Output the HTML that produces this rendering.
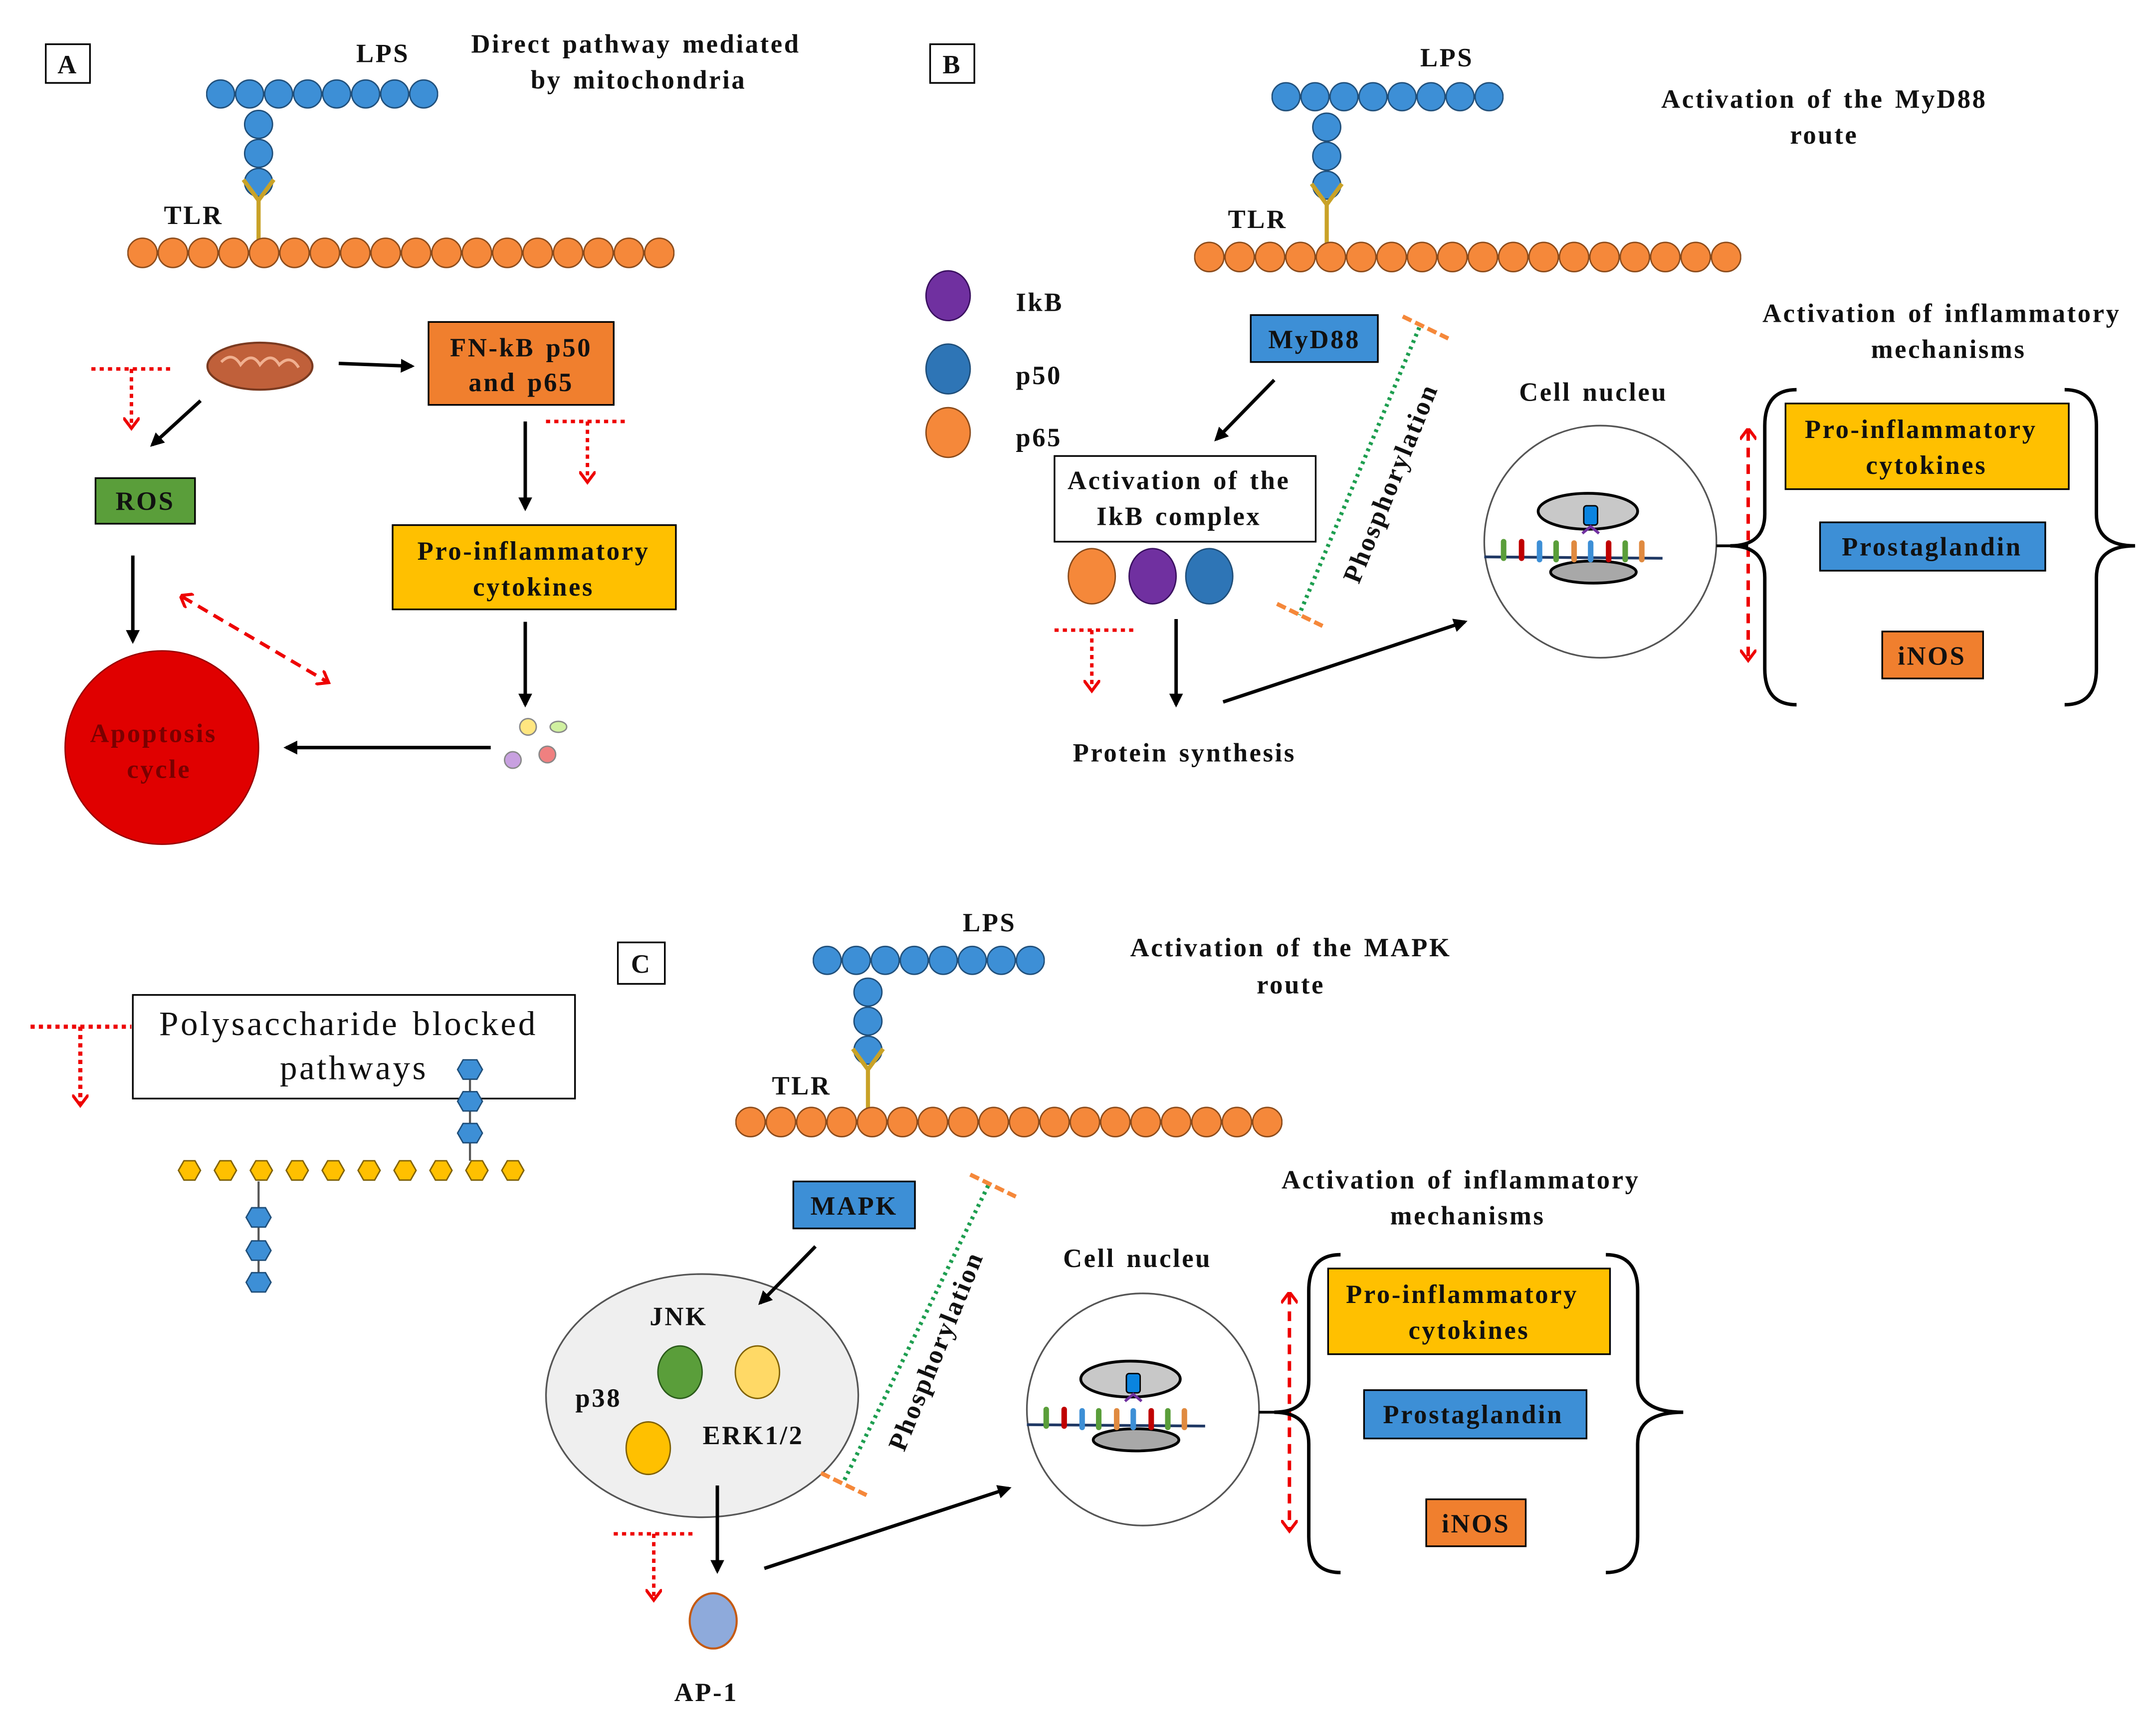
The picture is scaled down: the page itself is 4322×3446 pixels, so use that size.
<!DOCTYPE html>
<html><head><meta charset="utf-8"><style>html,body{margin:0;padding:0;background:#fff}svg{display:block}
text{font-family:"Liberation Serif",serif;font-weight:bold;font-size:19px;letter-spacing:1.3px;word-spacing:2px;fill:#111}</style></head>
<body>
<svg width="4322" height="3446" viewBox="0 0 1560 1244" xmlns="http://www.w3.org/2000/svg">
<defs>
<pattern id="mem" patternUnits="userSpaceOnUse" width="22" height="24"><circle cx="11" cy="12" r="10.6" fill="#f5883a" stroke="#8a4a1a" stroke-width="1"/></pattern>
<pattern id="lps" patternUnits="userSpaceOnUse" width="21" height="24"><circle cx="10.5" cy="12" r="10.1" fill="#3d8fd6" stroke="#1f4e79" stroke-width="1"/></pattern>
<pattern id="hex" patternUnits="userSpaceOnUse" width="26" height="20"><polygon points="5,10 9,3 17,3 21,10 17,17 9,17" fill="#ffc000" stroke="#7f6000" stroke-width="1"/></pattern>
<marker id="ar" markerWidth="10" markerHeight="10" refX="8" refY="5" orient="auto" markerUnits="userSpaceOnUse"><path d="M0,0 L10,5 L0,10 z" fill="#000"/></marker>
<marker id="rr" markerWidth="12" markerHeight="12" refX="6" refY="6" orient="auto" markerUnits="userSpaceOnUse"><path d="M0,0 L8,6 L0,12" fill="none" stroke="#e00" stroke-width="2.2"/></marker>
<marker id="rs" markerWidth="12" markerHeight="12" refX="2" refY="6" orient="auto" markerUnits="userSpaceOnUse"><path d="M8,0 L0,6 L8,12" fill="none" stroke="#e00" stroke-width="2.2"/></marker>
<g id="nuc">
<circle cx="0" cy="0" r="84" fill="#fff" stroke="#555" stroke-width="1.2"/>
<ellipse cx="-9" cy="-22" rx="36" ry="13" fill="#c8c8c8" stroke="#000" stroke-width="2"/>
<ellipse cx="-5" cy="22" rx="31" ry="8" fill="#a8a8a8" stroke="#000" stroke-width="2"/>
<line x1="-84" y1="11" x2="45" y2="12" stroke="#1f3864" stroke-width="2"/>
<rect x="-72" y="-2" width="4" height="16" rx="2" fill="#5a9e3a"/><rect x="-59" y="-2" width="4" height="16" rx="2" fill="#c00000"/><rect x="-46" y="-1" width="4" height="16" rx="2" fill="#3d8fd6"/><rect x="-34" y="-1" width="4" height="16" rx="2" fill="#5a9e3a"/><rect x="-21" y="-1" width="4" height="16" rx="2" fill="#e08a40"/><rect x="-9" y="-1" width="4" height="16" rx="2" fill="#3d8fd6"/><rect x="4" y="-1" width="4" height="16" rx="2" fill="#c00000"/><rect x="16" y="-1" width="4" height="16" rx="2" fill="#5a9e3a"/><rect x="28" y="-1" width="4" height="16" rx="2" fill="#e08a40"/>
<rect x="-12" y="-26" width="10" height="14" rx="2" fill="#0a84e0" stroke="#000" stroke-width="1"/>
<path d="M-13,-6 L-7,-11 L-1,-6" fill="none" stroke="#7030a0" stroke-width="2"/>
</g>
</defs>

<!-- ===== Panel A ===== -->
<rect x="33" y="32" width="32" height="28" fill="#fff" stroke="#000" stroke-width="1.2"/><text x="49" y="53" text-anchor="middle">A</text>
<text x="277" y="45" text-anchor="middle">LPS</text>
<text x="460" y="38" text-anchor="middle">Direct pathway mediated</text>
<text x="462" y="64" text-anchor="middle">by mitochondria</text>
<g transform="translate(149,56)"><rect width="168" height="24" fill="url(#lps)"/></g>
<circle cx="187" cy="90" r="10.1" fill="#3d8fd6" stroke="#1f4e79"/><circle cx="187" cy="111" r="10.1" fill="#3d8fd6" stroke="#1f4e79"/><circle cx="187" cy="132" r="10.1" fill="#3d8fd6" stroke="#1f4e79"/>
<path d="M187,182 L187,145 M176,130 L187,145 L198,130" fill="none" stroke="#c9a227" stroke-width="3"/>
<text x="140" y="162" text-anchor="middle">TLR</text>
<g transform="translate(92,171)"><rect width="396" height="24" fill="url(#mem)"/></g>
<ellipse cx="188" cy="265" rx="38" ry="17" fill="#c0603a" stroke="#7a3a20" stroke-width="1.5"/>
<path d="M160,262 q8,-8 14,2 q8,-10 14,0 q8,-10 14,0 q8,-8 14,2" fill="none" stroke="#f0b090" stroke-width="2"/>
<line x1="245" y1="263" x2="298" y2="265" stroke="#000" stroke-width="2.5" marker-end="url(#ar)"/>
<rect x="310" y="233" width="134" height="60" fill="#f07f2e" stroke="#000" stroke-width="1.2"/>
<text x="377" y="258" text-anchor="middle">FN-kB p50</text><text x="377" y="283" text-anchor="middle">and p65</text>
<path d="M66,267 L125,267 M95,267 L95,308" fill="none" stroke="#e00" stroke-width="2.5" stroke-dasharray="3,3" marker-end="url(#rr)"/>
<path d="M395,305 L455,305 M425,305 L425,347" fill="none" stroke="#e00" stroke-width="2.5" stroke-dasharray="3,3" marker-end="url(#rr)"/>
<line x1="145" y1="290" x2="110" y2="322" stroke="#000" stroke-width="2.5" marker-end="url(#ar)"/>
<rect x="69" y="346" width="72" height="33" fill="#5a9e3a" stroke="#000" stroke-width="1.2"/><text x="105" y="369" text-anchor="middle">ROS</text>
<line x1="380" y1="305" x2="380" y2="368" stroke="#000" stroke-width="2.5" marker-end="url(#ar)"/>
<rect x="284" y="380" width="205" height="61" fill="#ffc000" stroke="#000" stroke-width="1.2"/>
<text x="386" y="405" text-anchor="middle">Pro-inflammatory</text><text x="386" y="431" text-anchor="middle">cytokines</text>
<line x1="96" y1="402" x2="96" y2="464" stroke="#000" stroke-width="2.5" marker-end="url(#ar)"/>
<line x1="132" y1="432" x2="236" y2="493" stroke="#e00" stroke-width="2.5" stroke-dasharray="8,5" marker-start="url(#rs)" marker-end="url(#rr)"/>
<circle cx="117" cy="541" r="70" fill="#e00000" stroke="#900" stroke-width="1"/>
<text x="111" y="537" text-anchor="middle" style="fill:#7a0000">Apoptosis</text><text x="115" y="563" text-anchor="middle" style="fill:#7a0000">cycle</text>
<line x1="355" y1="541" x2="207" y2="541" stroke="#000" stroke-width="2.5" marker-end="url(#ar)"/>
<line x1="380" y1="450" x2="380" y2="510" stroke="#000" stroke-width="2.5" marker-end="url(#ar)"/>
<circle cx="382" cy="526" r="6" fill="#ffe680" stroke="#888"/><ellipse cx="404" cy="526" rx="6" ry="4" fill="#d0f0a0" stroke="#888"/><circle cx="371" cy="550" r="6" fill="#c8a0e0" stroke="#888"/><circle cx="396" cy="546" r="6" fill="#f08080" stroke="#888"/>

<!-- ===== Panel B ===== -->
<rect x="673" y="32" width="32" height="28" fill="#fff" stroke="#000" stroke-width="1.2"/><text x="689" y="53" text-anchor="middle">B</text>
<text x="1047" y="48" text-anchor="middle">LPS</text>
<text x="1320" y="78" text-anchor="middle">Activation of the MyD88</text><text x="1320" y="104" text-anchor="middle">route</text>
<g transform="translate(920,58)"><rect width="168" height="24" fill="url(#lps)"/></g>
<circle cx="960" cy="92" r="10.1" fill="#3d8fd6" stroke="#1f4e79"/><circle cx="960" cy="113" r="10.1" fill="#3d8fd6" stroke="#1f4e79"/><circle cx="960" cy="134" r="10.1" fill="#3d8fd6" stroke="#1f4e79"/>
<path d="M960,185 L960,148 M949,133 L960,148 L971,133" fill="none" stroke="#c9a227" stroke-width="3"/>
<text x="910" y="165" text-anchor="middle">TLR</text>
<g transform="translate(864,174)"><rect width="396" height="24" fill="url(#mem)"/></g>
<ellipse cx="686" cy="214" rx="16" ry="18" fill="#7030a0" stroke="#3a1060"/><text x="735" y="225">IkB</text>
<ellipse cx="686" cy="267" rx="16" ry="18" fill="#2e75b6" stroke="#1f4e79"/><text x="735" y="278">p50</text>
<ellipse cx="686" cy="313" rx="16" ry="18" fill="#f5883a" stroke="#8a4a1a"/><text x="735" y="323">p65</text>
<rect x="905" y="228" width="92" height="34" fill="#3d8fd6" stroke="#000" stroke-width="1.2"/><text x="951" y="252" text-anchor="middle">MyD88</text>
<line x1="922" y1="275" x2="880" y2="318" stroke="#000" stroke-width="2.5" marker-end="url(#ar)"/>
<rect x="763" y="330" width="189" height="62" fill="#fff" stroke="#000" stroke-width="1.2"/>
<text x="853" y="354" text-anchor="middle">Activation of the</text><text x="853" y="380" text-anchor="middle">IkB complex</text>
<ellipse cx="790" cy="417" rx="17" ry="20" fill="#f5883a" stroke="#8a4a1a"/><ellipse cx="834" cy="417" rx="17" ry="20" fill="#7030a0" stroke="#3a1060"/><ellipse cx="875" cy="417" rx="17" ry="20" fill="#2e75b6" stroke="#1f4e79"/>
<path d="M763,456 L820,456 M790,456 L790,498" fill="none" stroke="#e00" stroke-width="2.5" stroke-dasharray="3,3" marker-end="url(#rr)"/>
<line x1="851" y1="448" x2="851" y2="510" stroke="#000" stroke-width="2.5" marker-end="url(#ar)"/>
<text x="857" y="551" text-anchor="middle">Protein synthesis</text>
<line x1="885" y1="508" x2="1060" y2="450" stroke="#000" stroke-width="2.5" marker-end="url(#ar)"/>
<line x1="1027" y1="237" x2="940" y2="445" stroke="#1e9e50" stroke-width="3" stroke-dasharray="2,3"/>
<line x1="1015" y1="229" x2="1048" y2="245" stroke="#f5883a" stroke-width="3" stroke-dasharray="7,3"/>
<line x1="924" y1="437" x2="957" y2="453" stroke="#f5883a" stroke-width="3" stroke-dasharray="7,3"/>
<text x="1012" y="352" text-anchor="middle" transform="rotate(-68 1012 352)">Phosphorylation</text>
<text x="1153" y="290" text-anchor="middle">Cell nucleu</text>
<use href="#nuc" transform="translate(1158,392)"/>
<line x1="1242" y1="395" x2="1265" y2="395" stroke="#000" stroke-width="2"/>
<line x1="1265" y1="312" x2="1265" y2="476" stroke="#e00" stroke-width="2.5" stroke-dasharray="7,5" marker-start="url(#rs)" marker-end="url(#rr)"/>
<text x="1405" y="233" text-anchor="middle">Activation of inflammatory</text><text x="1410" y="259" text-anchor="middle">mechanisms</text>
<path d="M1300,282 Q1277,282 1277,308 L1277,372 Q1277,395 1252,395 Q1277,395 1277,418 L1277,484 Q1277,510 1300,510" fill="none" stroke="#000" stroke-width="2.5"/>
<path d="M1494,282 Q1517,282 1517,308 L1517,372 Q1517,395 1545,395 Q1517,395 1517,418 L1517,484 Q1517,510 1494,510" fill="none" stroke="#000" stroke-width="2.5"/>
<rect x="1292" y="292" width="205" height="62" fill="#ffc000" stroke="#000" stroke-width="1.2"/>
<text x="1390" y="317" text-anchor="middle">Pro-inflammatory</text><text x="1394" y="343" text-anchor="middle">cytokines</text>
<rect x="1317" y="378" width="163" height="35" fill="#3d8fd6" stroke="#000" stroke-width="1.2"/><text x="1398" y="402" text-anchor="middle">Prostaglandin</text>
<rect x="1362" y="457" width="73" height="34" fill="#f07f2e" stroke="#000" stroke-width="1.2"/><text x="1398" y="481" text-anchor="middle">iNOS</text>

<!-- ===== Panel C ===== -->
<rect x="447" y="682" width="34" height="30" fill="#fff" stroke="#000" stroke-width="1.2"/><text x="464" y="704" text-anchor="middle">C</text>
<text x="716" y="674" text-anchor="middle">LPS</text>
<text x="934" y="692" text-anchor="middle">Activation of the MAPK</text><text x="934" y="719" text-anchor="middle">route</text>
<g transform="translate(588,683)"><rect width="168" height="24" fill="url(#lps)"/></g>
<circle cx="628" cy="718" r="10.1" fill="#3d8fd6" stroke="#1f4e79"/><circle cx="628" cy="739" r="10.1" fill="#3d8fd6" stroke="#1f4e79"/><circle cx="628" cy="760" r="10.1" fill="#3d8fd6" stroke="#1f4e79"/>
<path d="M628,810 L628,774 M617,759 L628,774 L639,759" fill="none" stroke="#c9a227" stroke-width="3"/>
<text x="580" y="792" text-anchor="middle">TLR</text>
<g transform="translate(532,800)"><rect width="396" height="24" fill="url(#mem)"/></g>
<path d="M22,743 L95,743 M58,743 L58,798" fill="none" stroke="#e00" stroke-width="3" stroke-dasharray="3,3" marker-end="url(#rr)"/>
<rect x="96" y="720" width="320" height="75" fill="#fff" stroke="#000" stroke-width="1.2"/>
<text x="252" y="749" text-anchor="middle" style="font-weight:normal;font-size:25px;letter-spacing:1.6px">Polysaccharide blocked</text>
<text x="256" y="781" text-anchor="middle" style="font-weight:normal;font-size:25px;letter-spacing:1.6px">pathways</text>
<g transform="translate(124,837)"><rect width="260" height="20" fill="url(#hex)"/></g>
<line x1="340" y1="780" x2="340" y2="840" stroke="#555" stroke-width="1.5"/><line x1="187" y1="855" x2="187" y2="925" stroke="#555" stroke-width="1.5"/>
<polygon points="331,774 335,767 345,767 349,774 345,781 335,781" fill="#3d8fd6" stroke="#1f4e79"/>
<polygon points="331,797 335,790 345,790 349,797 345,804 335,804" fill="#3d8fd6" stroke="#1f4e79"/>
<polygon points="331,820 335,813 345,813 349,820 345,827 335,827" fill="#3d8fd6" stroke="#1f4e79"/>
<polygon points="178,881 182,874 192,874 196,881 192,888 182,888" fill="#3d8fd6" stroke="#1f4e79"/>
<polygon points="178,905 182,898 192,898 196,905 192,912 182,912" fill="#3d8fd6" stroke="#1f4e79"/>
<polygon points="178,928 182,921 192,921 196,928 192,935 182,935" fill="#3d8fd6" stroke="#1f4e79"/>
<rect x="574" y="855" width="88" height="34" fill="#3d8fd6" stroke="#000" stroke-width="1.2"/><text x="618" y="879" text-anchor="middle">MAPK</text>
<ellipse cx="508" cy="1010" rx="113" ry="88" fill="#efefef" stroke="#555" stroke-width="1.2"/>
<line x1="590" y1="902" x2="550" y2="943" stroke="#000" stroke-width="2.5" marker-end="url(#ar)"/>
<text x="491" y="959" text-anchor="middle">JNK</text>
<ellipse cx="492" cy="993" rx="16" ry="19" fill="#5a9e3a" stroke="#2a5a1a"/>
<ellipse cx="548" cy="993" rx="16" ry="19" fill="#ffd966" stroke="#7f6000"/>
<text x="433" y="1018" text-anchor="middle">p38</text>
<ellipse cx="469" cy="1048" rx="16" ry="19" fill="#ffc000" stroke="#7f6000"/>
<text x="545" y="1045" text-anchor="middle">ERK1/2</text>
<line x1="519" y1="1075" x2="519" y2="1137" stroke="#000" stroke-width="2.5" marker-end="url(#ar)"/>
<path d="M444,1110 L503,1110 M473,1110 L473,1156" fill="none" stroke="#e00" stroke-width="2.5" stroke-dasharray="3,3" marker-end="url(#rr)"/>
<ellipse cx="516" cy="1173" rx="17" ry="20" fill="#8eaadb" stroke="#c55a11" stroke-width="1.5"/>
<text x="511" y="1231" text-anchor="middle">AP-1</text>
<line x1="553" y1="1135" x2="730" y2="1077" stroke="#000" stroke-width="2.5" marker-end="url(#ar)"/>
<line x1="715" y1="858" x2="610" y2="1073" stroke="#1e9e50" stroke-width="3" stroke-dasharray="2,3"/>
<line x1="702" y1="850" x2="735" y2="866" stroke="#f5883a" stroke-width="3" stroke-dasharray="7,3"/>
<line x1="594" y1="1066" x2="627" y2="1082" stroke="#f5883a" stroke-width="3" stroke-dasharray="7,3"/>
<text x="683" y="980" text-anchor="middle" transform="rotate(-68 683 980)">Phosphorylation</text>
<text x="823" y="917" text-anchor="middle">Cell nucleu</text>
<use href="#nuc" transform="translate(827,1020)"/>
<line x1="911" y1="1022" x2="933" y2="1022" stroke="#000" stroke-width="2"/>
<line x1="933" y1="937" x2="933" y2="1106" stroke="#e00" stroke-width="2.5" stroke-dasharray="7,5" marker-start="url(#rs)" marker-end="url(#rr)"/>
<text x="1057" y="860" text-anchor="middle">Activation of inflammatory</text><text x="1062" y="886" text-anchor="middle">mechanisms</text>
<path d="M970,908 Q947,908 947,934 L947,999 Q947,1022 922,1022 Q947,1022 947,1045 L947,1112 Q947,1138 970,1138" fill="none" stroke="#000" stroke-width="2.5"/>
<path d="M1162,908 Q1185,908 1185,934 L1185,999 Q1185,1022 1218,1022 Q1185,1022 1185,1045 L1185,1112 Q1185,1138 1162,1138" fill="none" stroke="#000" stroke-width="2.5"/>
<rect x="961" y="918" width="204" height="62" fill="#ffc000" stroke="#000" stroke-width="1.2"/>
<text x="1058" y="943" text-anchor="middle">Pro-inflammatory</text><text x="1063" y="969" text-anchor="middle">cytokines</text>
<rect x="987" y="1006" width="161" height="35" fill="#3d8fd6" stroke="#000" stroke-width="1.2"/><text x="1066" y="1030" text-anchor="middle">Prostaglandin</text>
<rect x="1032" y="1085" width="72" height="34" fill="#f07f2e" stroke="#000" stroke-width="1.2"/><text x="1068" y="1109" text-anchor="middle">iNOS</text>
</svg>
</body></html>
